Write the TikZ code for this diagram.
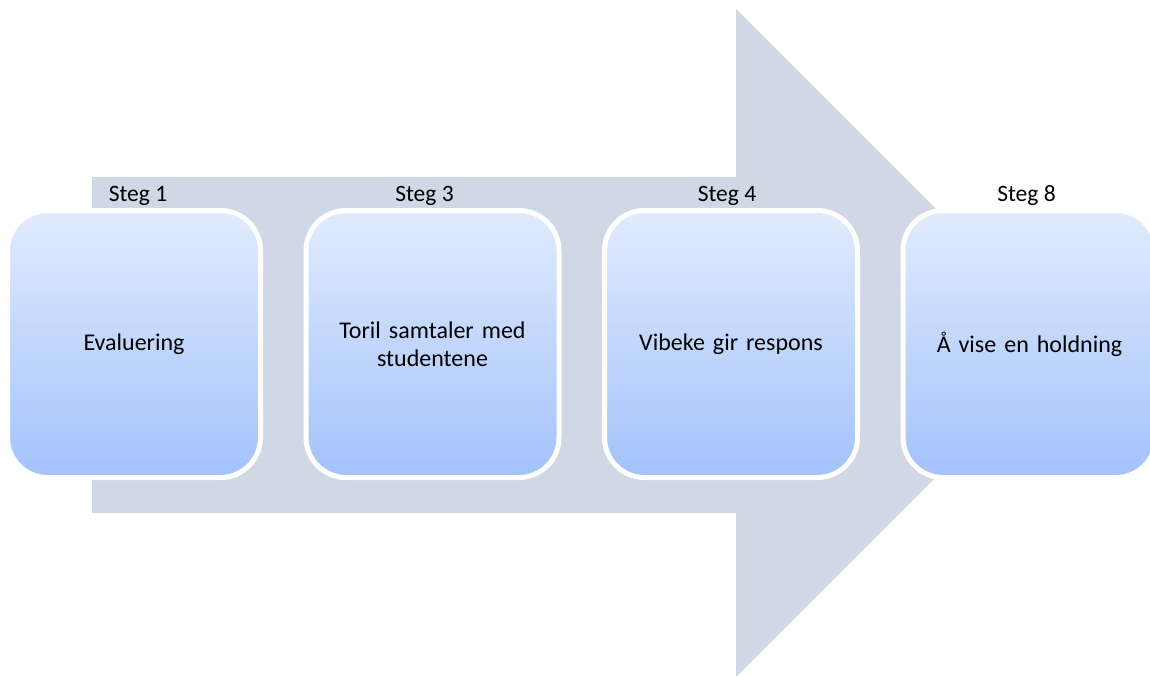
\documentclass[tikz,border=0pt]{standalone}
\usepackage{fontspec}
\setmainfont{Carlito}
\usepackage{xcolor}
\usetikzlibrary{positioning}
\definecolor{arrowcolor}{RGB}{208,216,230}
\definecolor{boxtop}{RGB}{225,235,253}
\definecolor{boxbottom}{RGB}{163,194,252}

\begin{document}
\begin{tikzpicture}[
    x=1pt, y=-1pt,
    node distance=45.5pt, % gap between the boxes
    stepbox/.style={
        rectangle,
        draw=white,
        line width=5pt,
        rounded corners=40pt,
        top color=boxtop,
        bottom color=boxbottom,
        minimum width=253pt,
        minimum height=267pt,
        text width=230pt,
        align=center,
        outer sep=0pt,
        font=\fontsize{24}{28.5}\selectfont
    },
    steglabel/.style={
        inner sep=0pt,
        outer sep=0pt,
        font=\fontsize{23.5}{28}\selectfont
    }
]
\useasboundingbox (0,0) rectangle (1150,675);
\clip (0,0) rectangle (1150,675);

% Big background arrow
\fill[arrowcolor] (92,177) -- (736,177) -- (736,9) -- (1070,343)
    -- (736,677) -- (736,513) -- (92,513) -- cycle;

% Step boxes
\node[stepbox] (eval) at (134,344) {Evaluering};
\node[stepbox, right=of eval] (samtale) {Toril samtaler med\\studentene};
\node[stepbox, right=of samtale] (respons) {Vibeke gir respons};
\node[stepbox, right=of respons] (holdning) {Å vise en holdning};

% Step labels
\node[steglabel, above=5pt of eval, xshift=4pt] (steg1) {Steg 1};
\node[steglabel, above=5pt of samtale, xshift=-8pt] (steg3) {Steg 3};
\node[steglabel, above=5pt of respons, xshift=-4pt] (steg4) {Steg 4};
\node[steglabel, above=5pt of holdning, xshift=-3pt] (steg8) {Steg 8};

\end{tikzpicture}
\end{document}
